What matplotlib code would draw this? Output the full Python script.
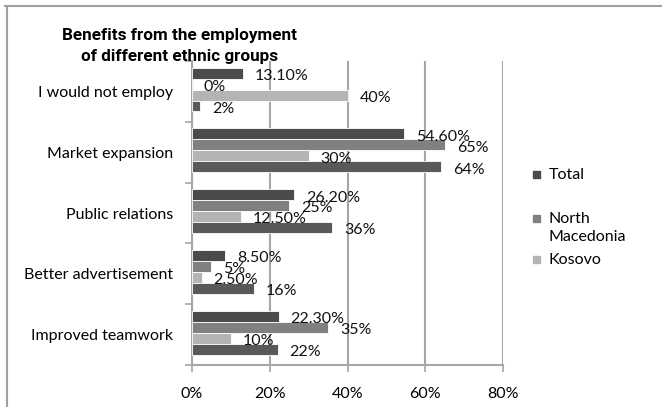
import matplotlib
matplotlib.use('Agg')
import matplotlib.pyplot as plt
from matplotlib.patches import Rectangle
from matplotlib.lines import Line2D
import numpy as np

categories = ['Improved teamwork', 'Better advertisement', 'Public relations',
              'Market expansion', 'I would not employ']
total = [22.3, 8.5, 26.2, 54.6, 13.1]
north_macedonia = [35, 5, 25, 65, 0]
kosovo = [10, 2.5, 12.5, 30, 40]
fourth = [22, 16, 36, 64, 2]

series_names = ['Total', 'North\nMacedonia', 'Kosovo', '']
series_colors = ['#4b4b4b', '#808080', '#b4b4b4', '#595959']
xticks = [0, 20, 40, 60, 80]

W, H = 662, 407
plt.rcParams['font.family'] = ['Lato', 'DejaVu Sans']
fig = plt.figure(figsize=(W / 100, H / 100), dpi=100)

ax = fig.add_axes([192 / W, 1 - 365 / H, (503 - 192) / W, (365 - 61) / H])

bar_h = 0.18
centers = np.arange(len(categories)) + 0.5
shifts = [1.5, 0.5, -0.5, -1.5]
gray = '#a6a6a6'
fs = 11.5

for vals, col, s in zip([total, north_macedonia, kosovo, fourth], series_colors, shifts):
    ys = centers + s * bar_h + 0.03
    ax.barh(ys, vals, height=bar_h, color=col, edgecolor='white', linewidth=0.6, zorder=3)
    for v, y in zip(vals, ys):
        txt = f'{v:.0f}%' if float(v).is_integer() else f'{v:.2f}%'
        ax.annotate(txt, (v, y), xytext=(8.6, -2), textcoords='offset points',
                    ha='left', va='center', fontsize=fs, color='#111111', zorder=5)

ax.set_xlim(0, 80)
ax.set_ylim(0, len(categories))
ax.set_xticks(xticks)
ax.set_xticklabels([f'{t}%' for t in xticks], fontsize=fs)
ax.set_yticks(centers)
ax.set_yticklabels(categories, fontsize=fs)
ax.set_yticks(np.arange(len(categories) + 1), minor=True)
ax.tick_params(axis='y', which='major', length=0, pad=13.5)
ax.tick_params(axis='y', which='minor', length=5, width=1.2, color=gray, direction='out')
ax.tick_params(axis='x', length=5, width=1.2, color=gray, direction='out', pad=11)
ax.grid(axis='x', color=gray, linewidth=1.5, zorder=0)
for side in ['top', 'right']:
    ax.spines[side].set_visible(False)
for side in ['left', 'bottom']:
    ax.spines[side].set_color(gray)
    ax.spines[side].set_linewidth(1.5)

fig.text(180 / W, 1 - 46 / H, 'Benefits from the employment\nof different ethnic groups',
         ha='center', va='center', fontsize=12.3, fontweight='bold', linespacing=1.5,
         family=['Roboto', 'Liberation Sans'])

# legend, drawn by hand so the squares sit at the first line of each name
legend_y = [174, 218, 259]
for name, col, y in zip(series_names[:3], series_colors[:3], legend_y):
    fig.patches.append(Rectangle((533 / W, 1 - (y + 3.5) / H), 7 / W, 7 / H,
                                 transform=fig.transFigure, color=col, figure=fig))
    fig.text(549 / W, 1 - (y - 6) / H, name, ha='left', va='top', fontsize=fs,
             linespacing=1.4)

# outer frame (top and left edges)
fig.lines.append(Line2D([5 / W, 1], [1 - 6 / H, 1 - 6 / H], transform=fig.transFigure,
                        color='#a0a0a0', linewidth=1.5))
fig.lines.append(Line2D([7 / W, 7 / W], [0, 1 - 6 / H], transform=fig.transFigure,
                        color='#a0a0a0', linewidth=1.5))

fig.savefig('out.png', dpi=100)
